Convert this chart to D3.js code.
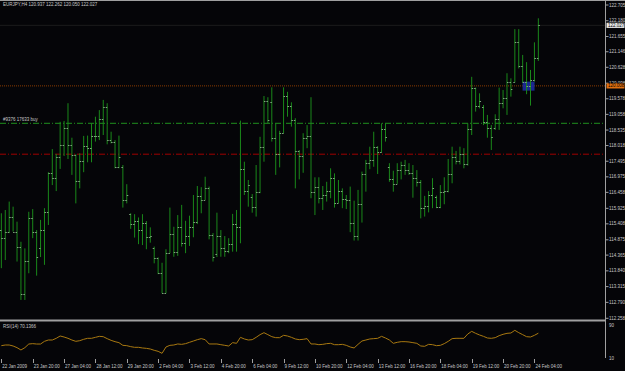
<!DOCTYPE html>
<html><head><meta charset="utf-8">
<script src="https://cdn.jsdelivr.net/npm/d3@7"></script>
<style>html,body{margin:0;padding:0;background:#000;} svg{display:block}</style>
</head><body>
<svg id="c" width="625" height="371"></svg>
<script>
// ---------- DATA ----------
const symbol = "EURJPY,H4";
const titleValues = ["120.937", "122.262", "120.050", "122.027"];
const opens = [115.2,114.93,115.13,115.63,115.15,114.65,113.06,114.17,115.6,115.15,
114.6,115.2,115.81,117.09,116.93,117.65,118.04,118.6,118.04,117.7,
116.84,117.5,118.0,117.93,118.35,118.34,118.89,119.3,118.2,118.15,
117.3,117.3,116.2,115.74,115.4,115.5,115.2,115.43,114.98,114.6,
114.26,113.76,113.1,114.45,115.06,114.48,115.31,114.76,115.0,115.3,
115.48,116.34,116.2,116.59,115.04,114.4,115.0,114.59,114.5,114.74,
115.39,115.3,117.23,116.5,116.3,115.98,116.48,117.98,119.5,119.46,
118.26,117.74,118.43,119.67,119.34,118.87,117.84,117.67,118.26,118.35,
116.46,116.63,116.26,116.37,116.5,116.93,116.11,116.5,116.24,116.2,
115.43,115.01,116.07,117.07,117.43,117.54,117.96,117.8,118.56,117.3,
116.89,116.74,117.2,117.37,117.2,117.1,116.93,116.8,115.93,116.0,
116.37,116.3,115.98,116.46,116.5,117.06,117.63,117.5,117.73,117.4,
118.56,119.93,119.35,119.3,118.81,118.59,118.6,118.9,119.43,119.6,
120.15,120.15,121.46,120.68,120.15,120.0,120.2,120.937];
const highs = [115.76,115.87,116.15,115.98,115.48,114.81,114.59,115.81,115.9,115.2,
115.54,115.93,117.13,117.9,117.74,118.81,118.84,119.43,118.28,117.73,
117.76,118.34,118.35,118.76,118.98,119.2,119.54,119.43,118.48,118.2,
118.35,117.37,116.73,115.76,115.73,115.62,115.73,115.5,115.29,114.65,
114.29,114.11,114.56,115.95,115.31,115.7,116.04,115.51,115.68,116.37,
116.67,116.63,116.98,116.65,115.1,115.78,115.2,115.0,114.93,115.74,
115.87,118.85,117.48,116.87,116.4,117.37,118.31,119.67,119.63,119.96,
118.76,118.51,119.96,119.81,119.46,118.93,117.87,118.43,118.7,119.63,
116.96,116.96,116.67,116.81,117.26,117.09,116.87,116.59,116.37,116.65,
116.18,116.54,117.15,117.54,117.98,118.48,118.0,118.76,118.76,117.43,
117.18,117.43,117.48,117.54,117.43,117.37,117.2,116.87,116.34,116.5,
116.93,116.35,116.7,116.96,117.57,117.98,117.84,117.98,117.93,118.76,
120.31,119.95,119.76,119.37,119.04,118.7,119.06,119.95,119.87,120.43,
120.26,121.9,121.9,121.04,120.8,120.54,121.46,122.262];
const lows = [113.93,114.2,115.1,115.15,114.15,112.87,112.87,113.76,114.93,113.68,
114.3,114.04,115.37,116.7,116.5,117.24,117.67,117.57,117.04,116.09,
116.59,117.13,117.46,117.46,118.15,118.2,118.37,118.06,118.09,117.26,
117.26,115.95,116.09,115.24,114.95,114.73,114.7,114.56,114.78,114.09,
113.73,113.09,113.09,114.43,114.31,114.34,114.65,114.43,114.67,114.96,
115.4,115.76,116.2,114.89,114.15,114.3,114.31,114.31,114.43,114.48,
114.48,114.76,116.37,115.98,115.78,115.65,116.43,117.48,118.76,118.15,
117.04,117.29,118.43,118.98,118.65,116.59,116.89,117.11,117.93,116.26,
115.7,116.09,115.87,116.15,116.26,115.95,116.1,115.93,115.9,115.13,
114.85,114.85,115.45,116.48,117.23,117.31,117.07,117.78,118.15,116.81,
116.48,116.74,116.89,117.04,117.04,116.28,116.65,115.59,115.65,115.79,
115.93,115.93,115.93,116.06,116.46,116.76,117.39,117.39,117.26,117.35,
118.37,119.15,119.26,118.7,118.28,117.87,118.54,118.54,119.26,119.04,
119.65,120.12,120.59,120.12,119.73,119.35,120.15,120.84];
const closes = [114.93,115.13,115.63,115.15,114.65,113.06,114.17,115.6,115.15,114.3,
115.2,115.81,117.09,116.93,117.65,118.04,118.6,118.04,117.7,116.84,
117.5,118.0,117.93,118.35,118.34,118.89,119.3,118.2,118.15,117.3,
117.65,116.2,116.37,115.4,115.5,115.2,115.43,114.98,115.0,114.26,
113.76,113.1,114.45,115.06,114.48,115.31,114.76,115.0,115.3,115.48,
116.34,116.2,116.59,115.04,114.3,115.0,114.59,114.5,114.74,115.39,
115.3,117.23,116.5,116.7,115.98,116.48,117.98,119.5,118.87,118.26,
117.74,118.43,119.67,119.34,118.87,117.84,117.67,118.26,118.35,116.46,
116.63,116.26,116.37,116.5,116.93,116.11,116.5,116.24,116.2,115.43,
115.01,116.07,117.07,117.43,117.54,117.96,117.8,118.56,118.3,116.89,
116.74,117.2,117.37,117.2,117.1,116.93,116.8,115.93,116.0,116.37,
116.6,115.98,116.46,116.5,117.06,117.63,117.5,117.73,117.4,118.56,
119.93,119.35,119.5,118.81,118.59,118.3,118.9,119.43,119.6,120.15,
119.9,121.46,120.68,120.15,120.0,120.2,120.93,122.027];
const rsiValues = [39.9,41.5,41.5,39.1,35.1,29.4,35.1,43.9,44.8,43.9,
43.9,50.4,53.6,53.6,57.7,63.3,60.9,57.7,53.6,50.4,
52.0,55.3,57.7,57.7,60.1,62.5,61.7,56.9,52.8,49.6,
47.2,40.7,39.9,37.5,35.9,35.9,34.3,33.4,31.8,28.6,
26.2,21.3,36.7,40.7,41.5,44.0,43.1,44.8,48.0,51.2,
54.4,56.9,54.4,44.0,44.0,44.0,42.3,40.7,39.1,47.2,
45.6,60.1,56.1,53.6,54.4,60.1,66.6,71.4,66.6,61.7,
59.3,59.3,65.0,63.3,60.1,56.1,54.4,55.3,56.9,44.0,
44.0,42.3,43.1,44.8,45.6,42.3,42.3,43.1,40.7,36.7,
34.3,43.1,51.2,53.6,56.1,56.9,57.7,62.5,58.5,53.6,
45.6,48.0,49.6,49.6,48.8,47.2,45.6,39.1,38.3,43.1,
42.3,39.9,40.7,44.8,50.4,56.9,57.7,57.7,57.7,68.2,
74.6,69.8,65.8,62.5,58.5,57.7,59.3,64.1,67.4,69.8,
70.6,77.1,71.4,66.6,61.7,60.9,65.0,70.14];
const rsiLabel = "RSI(14) 70.1366";
const timeLabels = ["22 Jan 2009","23 Jan 20:00","27 Jan 04:00","28 Jan 12:00","29 Jan 20:00",
"2 Feb 04:00","3 Feb 12:00","4 Feb 20:00","6 Feb 04:00","9 Feb 12:00","10 Feb 20:00",
"12 Feb 04:00","13 Feb 12:00","16 Feb 20:00","18 Feb 04:00","19 Feb 12:00","20 Feb 20:00","24 Feb 04:00"];
const barsPerLabel = 8;
const priceTicks = [122.705,122.180,121.655,121.146,120.628,120.098,119.578,119.058,118.535,
118.018,117.495,116.975,116.458,115.925,115.408,114.875,114.365,113.840,113.315,112.790,112.258];
const bidPrice = 122.027;
const alertPrice = 120.008;
const buyPrice = 118.76;
const buyLabel = "#9376 17633 buy";
const stopPrice = 117.73;
const rsiTicks = [90, 10];
const markerBar = 134.5, markerPrice = 120.0;

// ---------- DRAW ----------
const W = 625, H = 371;
const svg = d3.select("#c");
svg.append("rect").attr("width", W).attr("height", H).attr("fill", "#050508");
const font = "'Liberation Sans', Arial, sans-serif";
const txt = "#c8c8c8";

const n = closes.length;
const x = d3.scaleLinear().domain([0, n - 1]).range([1.35, 538.35]);
const y = d3.scaleLinear().domain([112.258, 122.705]).range([318.3, 5]);
const yr = d3.scaleLinear().domain([10, 90]).range([358, 325]);

const axisX = 605.5;

// horizontal objects
svg.append("line").attr("x1", 0).attr("x2", axisX).attr("y1", y(bidPrice)).attr("y2", y(bidPrice))
  .attr("stroke", "#1c1c1c").attr("stroke-width", 1);
svg.append("line").attr("x1", 0).attr("x2", axisX).attr("y1", y(alertPrice)).attr("y2", y(alertPrice))
  .attr("stroke", "#8a3c00").attr("stroke-width", 1).attr("stroke-dasharray", "1,1");
svg.append("line").attr("x1", 0).attr("x2", axisX).attr("y1", y(buyPrice)).attr("y2", y(buyPrice))
  .attr("stroke", "#1f8f1f").attr("stroke-width", 1).attr("stroke-dasharray", "6,2,1,2");
svg.append("line").attr("x1", 0).attr("x2", axisX).attr("y1", y(stopPrice)).attr("y2", y(stopPrice))
  .attr("stroke", "#a00000").attr("stroke-width", 1).attr("stroke-dasharray", "6,2,1,2");
svg.append("text").attr("x", 3).attr("y", y(buyPrice) - 2).attr("fill", txt)
  .attr("font-family", font).attr("font-size", 4.5).text(buyLabel);

// marker rect
svg.append("rect").attr("x", x(markerBar) - 6).attr("y", y(markerPrice) - 4.5)
  .attr("width", 12).attr("height", 9).attr("fill", "#1f2fa8").attr("opacity", 0.85);

// bars
const idx = d3.range(n);
const bars = svg.append("g");
bars.selectAll("line.hl").data(idx).join("line")
  .attr("x1", i => x(i)).attr("x2", i => x(i))
  .attr("y1", i => y(highs[i])).attr("y2", i => y(lows[i]))
  .attr("stroke", "#1a881a").attr("stroke-width", 1);
bars.selectAll("line.o").data(idx).join("line")
  .attr("x1", i => x(i) - 1.5).attr("x2", i => x(i))
  .attr("y1", i => Math.round(y(opens[i])) + 0.5).attr("y2", i => Math.round(y(opens[i])) + 0.5)
  .attr("stroke", "#7fa87f").attr("stroke-width", 1);
bars.selectAll("line.c").data(idx).join("line")
  .attr("x1", i => x(i)).attr("x2", i => x(i) + 1.5)
  .attr("y1", i => Math.round(y(closes[i])) + 0.5).attr("y2", i => Math.round(y(closes[i])) + 0.5)
  .attr("stroke", "#7fa87f").attr("stroke-width", 1);

// title
svg.append("text").attr("x", 3).attr("y", 6.3).attr("fill", txt).attr("font-family", font)
  .attr("font-size", 4.5).text(symbol + "  " + titleValues.join(" "));

// frame
svg.append("line").attr("x1", 0).attr("x2", W).attr("y1", 0.5).attr("y2", 0.5).attr("stroke", "#a0a0a0");
svg.append("line").attr("x1", axisX).attr("x2", axisX).attr("y1", 0).attr("y2", 358).attr("stroke", "#a0a0a0");
svg.append("rect").attr("x", 0).attr("y", 319.5).attr("width", axisX).attr("height", 2).attr("fill", "#a0a0a0");

// price axis
const pa = svg.append("g");
pa.selectAll("line").data(priceTicks).join("line")
  .attr("x1", axisX).attr("x2", axisX + 3).attr("y1", d => y(d)).attr("y2", d => y(d)).attr("stroke", "#a0a0a0");
pa.selectAll("text").data(priceTicks.filter(d => Math.abs(y(d) - y(alertPrice)) > 4)).join("text")
  .attr("x", 609).attr("y", d => y(d) + 1.6).attr("fill", txt).attr("font-family", font)
  .attr("font-size", 4.5).text(d => d.toFixed(3));
// tick label partly hidden by the alert box, shown clipped as in the reference
const hidden = priceTicks.filter(d => Math.abs(y(d) - y(alertPrice)) <= 4);
svg.append("clipPath").attr("id", "cl").append("rect").attr("x", 606).attr("y", 0).attr("width", 19).attr("height", y(alertPrice) - 2.6);
svg.append("g").attr("clip-path", "url(#cl)").selectAll("text").data(hidden).join("text")
  .attr("x", 609).attr("y", d => y(d) + 1.6).attr("fill", txt).attr("font-family", font)
  .attr("font-size", 4.5).text(d => d.toFixed(3));

// bid box
svg.append("rect").attr("x", 606.5).attr("y", y(bidPrice) - 2.6).attr("width", 18).attr("height", 5.2).attr("fill", "#e8e8e8");
svg.append("text").attr("x", 608).attr("y", y(bidPrice) + 1.6).attr("fill", "#000").attr("font-family", font)
  .attr("font-size", 4.5).text(bidPrice.toFixed(3));
// alert box
svg.append("rect").attr("x", 606.5).attr("y", y(alertPrice) - 2.6).attr("width", 18).attr("height", 5.2).attr("fill", "#e07010");
svg.append("text").attr("x", 608).attr("y", y(alertPrice) + 1.6).attr("fill", "#000").attr("font-family", font)
  .attr("font-size", 4.5).text(alertPrice.toFixed(3));

// RSI
const line = d3.line().x((d, i) => x(i)).y(d => yr(d));
svg.append("path").attr("d", line(rsiValues)).attr("fill", "none").attr("stroke", "#a87810").attr("stroke-width", 1);
svg.append("text").attr("x", 3).attr("y", 328).attr("fill", txt).attr("font-family", font)
  .attr("font-size", 4.5).text(rsiLabel);
svg.selectAll("text.rt").data(rsiTicks).join("text").attr("class", "rt")
  .attr("x", 609).attr("y", d => yr(d) + 1.6).attr("fill", txt).attr("font-family", font)
  .attr("font-size", 4.5).text(d => d);

// time axis
const ta = svg.append("g");
ta.selectAll("line").data(timeLabels).join("line")
  .attr("x1", (d, k) => Math.round(x(k * barsPerLabel)) + 0.5).attr("x2", (d, k) => Math.round(x(k * barsPerLabel)) + 0.5)
  .attr("y1", 359).attr("y2", 363).attr("stroke", "#a0a0a0");
ta.selectAll("text").data(timeLabels).join("text")
  .attr("x", (d, k) => x(k * barsPerLabel) + 1).attr("y", 367.8).attr("fill", txt)
  .attr("font-family", font).attr("font-size", 4.5).text(d => d);
</script>
</body></html>
